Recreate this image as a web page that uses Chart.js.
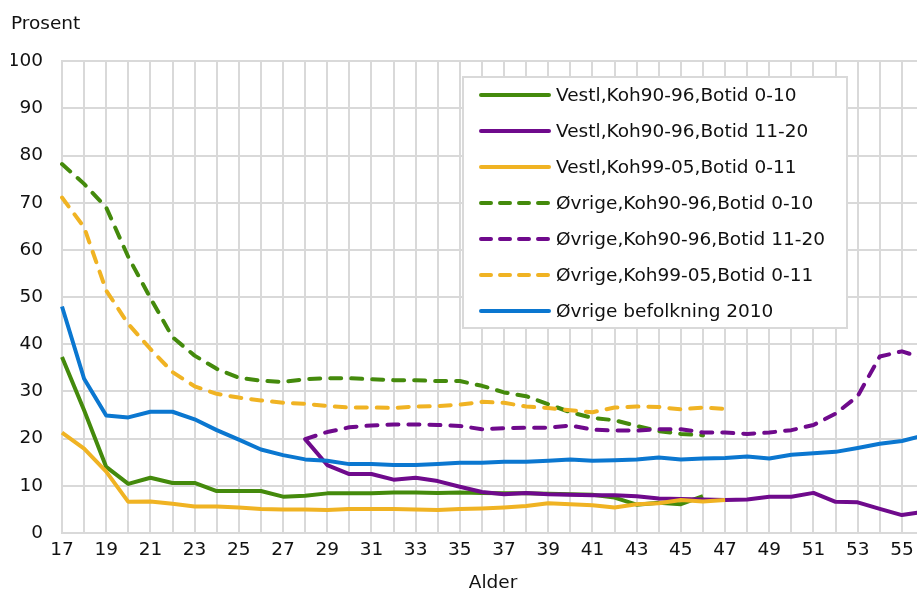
<!DOCTYPE html>
<html>
<head>
<meta charset="utf-8">
<script src="https://cdn.jsdelivr.net/npm/chart.js@4/dist/chart.umd.min.js"></script>
<style>
    html, body { margin: 0; padding: 0; background: #fff; }
    #wrap { width: 917px; height: 590px; overflow: hidden; position: relative; }
    #box { width: 940px; height: 594px; position: relative; }
</style>
</head>
<body>
<div id="wrap"><div id="box"><canvas id="chart"></canvas></div></div>
<script>
// Ages 17..56 (the last one is cut off by the page edge, like in the reference)
const ages = [17, 18, 19, 20, 21, 22, 23, 24, 25, 26, 27, 28, 29, 30, 31, 32, 33, 34, 35, 36,
              37, 38, 39, 40, 41, 42, 43, 44, 45, 46, 47, 48, 49, 50, 51, 52, 53, 54, 55, 56];

const seriesNames = [
    'Vestl,Koh90-96,Botid 0-10',
    'Vestl,Koh90-96,Botid 11-20',
    'Vestl,Koh99-05,Botid 0-11',
    'Øvrige,Koh90-96,Botid 0-10',
    'Øvrige,Koh90-96,Botid 11-20',
    'Øvrige,Koh99-05,Botid 0-11',
    'Øvrige befolkning 2010'
];

const vestl9096_0010 = [37.3, 26.0, 14.0, 10.4, 11.7, 10.6, 10.6, 8.9, 8.9, 8.9, 7.7, 7.9, 8.4, 8.4, 8.4, 8.6, 8.6, 8.5, 8.6, 8.5,
                        8.4, 8.4, 8.3, 8.2, 8.1, 7.5, 6.0, 6.4, 6.1, 7.8, null, null, null, null, null, null, null, null, null, null];
const vestl9096_1120 = [null, null, null, null, null, null, null, null, null, null, null, 19.9, 14.4, 12.5, 12.5, 11.3, 11.7, 11.0, 9.8, 8.7,
                        8.2, 8.5, 8.2, 8.1, 8.0, 8.0, 7.8, 7.3, 7.2, 7.1, 7.0, 7.1, 7.7, 7.7, 8.5, 6.6, 6.5, 5.1, 3.8, 4.5];
const vestl9905_0011 = [21.3, 17.9, 13.0, 6.6, 6.7, 6.2, 5.6, 5.6, 5.4, 5.1, 5.0, 5.0, 4.9, 5.1, 5.1, 5.1, 5.0, 4.9, 5.1, 5.2,
                        5.4, 5.7, 6.3, 6.1, 5.9, 5.4, 6.1, 6.3, 7.0, 6.7, 7.0, null, null, null, null, null, null, null, null, null];
const ovrige9096_0010 = [78.2, 74.0, 69.0, 58.5, 49.8, 41.5, 37.6, 34.8, 32.9, 32.3, 32.0, 32.6, 32.8, 32.8, 32.6, 32.4, 32.4, 32.2, 32.2, 31.2,
                         29.8, 29.0, 27.3, 25.6, 24.4, 23.9, 22.7, 21.6, 21.0, 20.7, null, null, null, null, null, null, null, null, null, null];
const ovrige9096_1120 = [null, null, null, null, null, null, null, null, null, null, null, 19.9, 21.4, 22.4, 22.8, 23.0, 23.0, 22.9, 22.7, 22.0,
                         22.2, 22.3, 22.3, 22.8, 21.9, 21.7, 21.7, 22.0, 22.0, 21.3, 21.3, 21.0, 21.3, 21.8, 22.9, 25.3, 29.0, 37.4, 38.5, 37.0];
const ovrige9905_0011 = [71.1, 64.8, 51.4, 44.3, 39.0, 34.1, 31.1, 29.5, 28.7, 28.1, 27.6, 27.4, 26.9, 26.6, 26.6, 26.5, 26.8, 26.9, 27.2, 27.8,
                         27.6, 26.8, 26.5, 26.0, 25.6, 26.6, 26.8, 26.7, 26.2, 26.6, 26.3, null, null, null, null, null, null, null, null, null];
const befolkning2010 = [48.0, 32.7, 24.9, 24.5, 25.7, 25.7, 24.1, 21.8, 19.8, 17.7, 16.5, 15.6, 15.3, 14.6, 14.6, 14.4, 14.4, 14.6, 14.9, 14.9,
                        15.1, 15.1, 15.3, 15.6, 15.3, 15.4, 15.6, 16.0, 15.6, 15.8, 15.9, 16.2, 15.8, 16.6, 16.9, 17.2, 18.0, 18.9, 19.5, 20.7];

const yTicks = [0, 10, 20, 30, 40, 50, 60, 70, 80, 90, 100];

const GREEN = '#448a0c';
const PURPLE = '#6f0a8c';
const YELLOW = '#f0b323';
const BLUE = '#0b77d0';
const GRID = '#d9d9d9';
const FONT = 'DejaVu Sans, Liberation Sans, Arial, sans-serif';

function makeSet(i, data, color, dashed) {
    return {
        label: seriesNames[i],
        data: data,
        borderColor: color,
        backgroundColor: color,
        borderWidth: 4,
        borderDash: dashed ? [11, 10] : [],
        borderCapStyle: dashed ? 'round' : 'butt',
        borderJoinStyle: 'round',
        pointRadius: 0,
        tension: 0,
        spanGaps: false,
        fill: false,
        order: 6 - i  // later series drawn on top
    };
}

// Legend box drawn inside the plot, on top of the lines
const boxLegend = {
    id: 'boxLegend',
    afterDatasetsDraw(chart) {
        const ctx = chart.ctx;
        const x0 = 463, y0 = 77, w = 384, h = 251;
        ctx.save();
        ctx.fillStyle = '#fff';
        ctx.fillRect(x0, y0, w, h);
        ctx.strokeStyle = GRID;
        ctx.lineWidth = 2;
        ctx.strokeRect(x0, y0, w, h);
        ctx.font = '18.5px ' + FONT;
        ctx.textBaseline = 'middle';
        ctx.textAlign = 'left';
        chart.data.datasets.forEach((ds, i) => {
            const y = y0 + 18 + i * 36;
            ctx.beginPath();
            ctx.strokeStyle = ds.borderColor;
            ctx.lineWidth = 4;
            ctx.lineCap = 'round';
            ctx.setLineDash(ds.borderDash.length ? [10, 9] : []);
            ctx.moveTo(481, y);
            ctx.lineTo(549, y);
            ctx.stroke();
            ctx.setLineDash([]);
            ctx.fillStyle = '#111';
            ctx.fillText(ds.label, 556, y + 1);
        });
        ctx.restore();
    }
};

const ctx = document.getElementById('chart');
new Chart(ctx, {
    type: 'line',
    data: {
        labels: ages.map(String),
        datasets: [
            makeSet(0, vestl9096_0010, GREEN, false),
            makeSet(1, vestl9096_1120, PURPLE, false),
            makeSet(2, vestl9905_0011, YELLOW, false),
            makeSet(3, ovrige9096_0010, GREEN, true),
            makeSet(4, ovrige9096_1120, PURPLE, true),
            makeSet(5, ovrige9905_0011, YELLOW, true),
            makeSet(6, befolkning2010, BLUE, false)
        ]
    },
    options: {
        responsive: true,
        maintainAspectRatio: false,
        animation: false,
        layout: { padding: { left: 11, right: 16, top: 0, bottom: 0 } },
        plugins: {
            legend: { display: false },
            tooltip: { enabled: false },
            title: {
                display: true,
                text: 'Prosent',
                align: 'start',
                color: '#111',
                font: { family: FONT, size: 18.5, weight: 'normal' },
                padding: { top: 13, bottom: 26 }
            }
        },
        scales: {
            x: {
                type: 'category',
                offset: false,
                grid: { color: GRID, lineWidth: 2, drawTicks: false },
                border: { color: GRID, width: 2 },
                afterFit: (scale) => { scale.height = 61; },
                ticks: {
                    autoSkip: false,
                    maxRotation: 0,
                    padding: 6,
                    color: '#111',
                    font: { family: FONT, size: 18.5 },
                    callback: (v, idx) => (idx % 2 === 0 ? String(ages[idx]) : '')
                },
                title: {
                    display: true,
                    text: 'Alder',
                    color: '#111',
                    font: { family: FONT, size: 18.5 },
                    padding: { top: 2, bottom: 0 }
                }
            },
            y: {
                min: 0,
                max: 100,
                afterBuildTicks: (scale) => { scale.ticks = yTicks.map(v => ({ value: v })); },
                afterFit: (scale) => { scale.width = 51; },
                grid: { color: GRID, lineWidth: 2, drawTicks: false },
                border: { color: GRID, width: 2 },
                ticks: {
                    padding: 19,
                    color: '#111',
                    font: { family: FONT, size: 18.5 }
                }
            }
        }
    },
    plugins: [boxLegend]
});
</script>
</body>
</html>
